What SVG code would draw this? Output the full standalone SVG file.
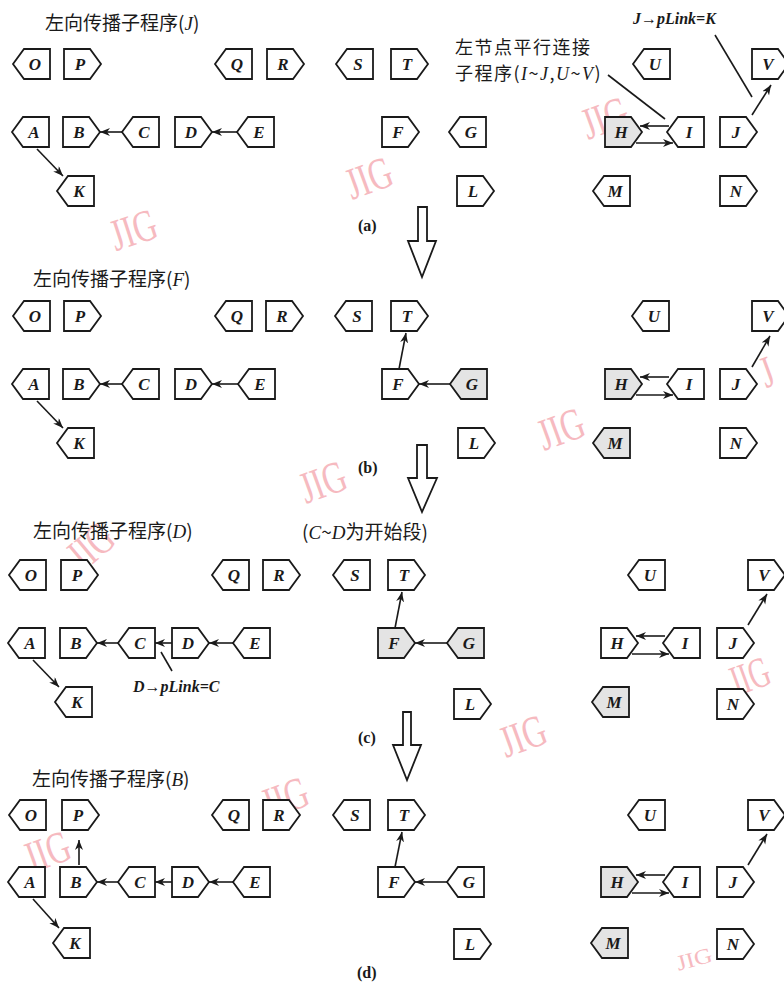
<svg xmlns="http://www.w3.org/2000/svg" xmlns:xlink="http://www.w3.org/1999/xlink" width="784" height="983" viewBox="0 0 784 983">
<style>
.n{fill:#fff;stroke:#1a1a1a;stroke-width:1.8}
.g{fill:#e4e4e4}
.t{font-family:"Liberation Serif",serif;font-style:italic;font-weight:bold;font-size:17px;fill:#1a1a1a;text-anchor:middle}
.h{font-family:"Noto Sans CJK SC","Liberation Serif",sans-serif;font-size:19px;fill:#1a1a1a}
.h2{font-family:"Noto Sans CJK SC","Liberation Serif",sans-serif;font-size:18px;letter-spacing:1.5px;fill:#1a1a1a}
.i{font-family:"Liberation Serif",serif;font-style:italic}
.p{font-family:"Liberation Serif",serif;font-style:italic;font-weight:bold;font-size:16px;fill:#1a1a1a}
.cap{font-family:"Liberation Serif",serif;font-weight:bold;font-size:16px;fill:#1a1a1a}
.c line{stroke:#1a1a1a;stroke-width:1.6}
.c .a{marker-end:url(#ah)}
.big{fill:#fff;stroke:#1a1a1a;stroke-width:1.8}
.w{font-family:"Liberation Serif",serif;font-size:36px;fill:#f4a3ab;opacity:0.75;text-anchor:middle}
</style>
<defs>
<path id="lp" d="M0,15 L11,0 H37 V30 H11 Z"/>
<path id="rp" d="M0,0 H26 L37,15 L26,30 H0 Z"/>
<marker id="ah" markerUnits="userSpaceOnUse" markerWidth="12" markerHeight="10" refX="10" refY="4" orient="auto" viewBox="0 0 12 10">
<path d="M0,0 L10,4 L0,8 L3,4 Z" fill="#1a1a1a"/>
</marker>
</defs>
<rect width="784" height="983" fill="#fff"/>

<!-- watermarks -->
<g id="watermarks">
<text class="w" transform="translate(138,244) rotate(-18) scale(0.9,1.25)">JIG</text>
<text class="w" transform="translate(374,192) rotate(-20) scale(0.9,1.25)">JIG</text>
<text class="w" transform="translate(610,132) rotate(-20) scale(0.9,1.25)">JIG</text>
<text class="w" transform="translate(566,443) rotate(-20) scale(0.9,1.25)">JIG</text>
<text class="w" transform="translate(772,386) rotate(-20) scale(0.9,1.25)">J</text>
<text class="w" transform="translate(328,496) rotate(-20) scale(0.9,1.25)">JIG</text>
<text class="w" transform="translate(100,558) rotate(-40) scale(0.9,1.25)">JIG</text>
<text class="w" transform="translate(754,690) rotate(-20) scale(0.8,1.2)">JIG</text>
<text class="w" transform="translate(528,750) rotate(-20) scale(0.9,1.25)">JIG</text>
<text class="w" transform="translate(290,812) rotate(-20) scale(0.9,1.25)">JIG</text>
<text class="w" transform="translate(52,866) rotate(-20) scale(0.9,1.25)">JIG</text>
<text class="w" transform="translate(696,966) rotate(-15) scale(0.7,0.6)">JIG</text>
</g>

<!-- labels -->
<g id="labels">
<text class="h" x="45" y="30">左向传播子程序(<tspan class="i">J</tspan>)</text>
<text class="h2" x="455" y="54">左节点平行连接</text>
<text class="h2" x="455" y="80">子程序(<tspan class="i">I</tspan>~<tspan class="i">J</tspan>,<tspan class="i">U</tspan>~<tspan class="i">V</tspan>)</text>
<text class="p" x="633" y="24">J→pLink=K</text>
<text class="cap" x="358" y="231">(a)</text>
<text class="h" x="33" y="286">左向传播子程序(<tspan class="i">F</tspan>)</text>
<text class="cap" x="358" y="473">(b)</text>
<text class="h" x="33" y="538">左向传播子程序(<tspan class="i">D</tspan>)</text>
<text class="h" x="302" y="539">(<tspan class="i">C</tspan>~<tspan class="i">D</tspan>为开始段)</text>
<text class="p" x="133" y="692">D→pLink=C</text>
<text class="cap" x="358" y="743">(c)</text>
<text class="h" x="32" y="786">左向传播子程序(<tspan class="i">B</tspan>)</text>
<text class="cap" x="357" y="978">(d)</text>
</g>

<!-- big down arrows -->
<g id="step-arrows">
<path class="big" d="M418,207 H427 V241 H436 L422,277 L408,241 H418 Z"/>
<path class="big" d="M417,445 H427 V478 H437 L422,512 L408,478 H417 Z"/>
<path class="big" d="M403,712 H411 V745 H421 L407,780 L393,745 H403 Z"/>
</g>

<!-- panel a nodes -->
<g id="a-O"><use href="#lp" class="n" x="13" y="49"/><text class="t" x="35" y="70">O</text></g>
<g id="a-P"><use href="#rp" class="n" x="64" y="49"/><text class="t" x="80" y="70">P</text></g>
<g id="a-Q"><use href="#lp" class="n" x="215" y="49"/><text class="t" x="237" y="70">Q</text></g>
<g id="a-R"><use href="#rp" class="n" x="267" y="49"/><text class="t" x="283" y="70">R</text></g>
<g id="a-S"><use href="#lp" class="n" x="336" y="49"/><text class="t" x="358" y="70">S</text></g>
<g id="a-T"><use href="#rp" class="n" x="391" y="49"/><text class="t" x="407" y="70">T</text></g>
<g id="a-U"><use href="#lp" class="n" x="633" y="49"/><text class="t" x="655" y="70">U</text></g>
<g id="a-V"><use href="#rp" class="n" x="752" y="49"/><text class="t" x="768" y="70">V</text></g>
<g id="a-A"><use href="#lp" class="n" x="12" y="117"/><text class="t" x="34" y="138">A</text></g>
<g id="a-B"><use href="#rp" class="n" x="63" y="117"/><text class="t" x="79" y="138">B</text></g>
<g id="a-C"><use href="#lp" class="n" x="122" y="117"/><text class="t" x="144" y="138">C</text></g>
<g id="a-D"><use href="#rp" class="n" x="175" y="117"/><text class="t" x="191" y="138">D</text></g>
<g id="a-E"><use href="#lp" class="n" x="237" y="117"/><text class="t" x="259" y="138">E</text></g>
<g id="a-F"><use href="#rp" class="n" x="382" y="117"/><text class="t" x="398" y="138">F</text></g>
<g id="a-G"><use href="#lp" class="n" x="449" y="117"/><text class="t" x="471" y="138">G</text></g>
<g id="a-H"><use href="#rp" class="n g" x="605" y="117"/><text class="t" x="621" y="138">H</text></g>
<g id="a-I"><use href="#lp" class="n" x="667" y="117"/><text class="t" x="689" y="138">I</text></g>
<g id="a-J"><use href="#rp" class="n" x="720" y="117"/><text class="t" x="736" y="138">J</text></g>
<g id="a-K"><use href="#lp" class="n" x="57" y="176"/><text class="t" x="79" y="197">K</text></g>
<g id="a-L"><use href="#rp" class="n" x="457" y="176"/><text class="t" x="473" y="197">L</text></g>
<g id="a-M"><use href="#lp" class="n" x="593" y="176"/><text class="t" x="615" y="197">M</text></g>
<g id="a-N"><use href="#rp" class="n" x="720" y="176"/><text class="t" x="736" y="197">N</text></g>

<!-- panel b nodes -->
<g id="b-O"><use href="#lp" class="n" x="13" y="301"/><text class="t" x="35" y="322">O</text></g>
<g id="b-P"><use href="#rp" class="n" x="64" y="301"/><text class="t" x="80" y="322">P</text></g>
<g id="b-Q"><use href="#lp" class="n" x="215" y="301"/><text class="t" x="237" y="322">Q</text></g>
<g id="b-R"><use href="#rp" class="n" x="266" y="301"/><text class="t" x="282" y="322">R</text></g>
<g id="b-S"><use href="#lp" class="n" x="335" y="301"/><text class="t" x="357" y="322">S</text></g>
<g id="b-T"><use href="#rp" class="n" x="391" y="301"/><text class="t" x="407" y="322">T</text></g>
<g id="b-U"><use href="#lp" class="n" x="632" y="301"/><text class="t" x="654" y="322">U</text></g>
<g id="b-V"><use href="#rp" class="n" x="752" y="301"/><text class="t" x="768" y="322">V</text></g>
<g id="b-A"><use href="#lp" class="n" x="12" y="369"/><text class="t" x="34" y="390">A</text></g>
<g id="b-B"><use href="#rp" class="n" x="63" y="369"/><text class="t" x="79" y="390">B</text></g>
<g id="b-C"><use href="#lp" class="n" x="122" y="369"/><text class="t" x="144" y="390">C</text></g>
<g id="b-D"><use href="#rp" class="n" x="175" y="369"/><text class="t" x="191" y="390">D</text></g>
<g id="b-E"><use href="#lp" class="n" x="238" y="369"/><text class="t" x="260" y="390">E</text></g>
<g id="b-F"><use href="#rp" class="n" x="382" y="369"/><text class="t" x="398" y="390">F</text></g>
<g id="b-G"><use href="#lp" class="n g" x="450" y="369"/><text class="t" x="472" y="390">G</text></g>
<g id="b-H"><use href="#rp" class="n g" x="605" y="369"/><text class="t" x="621" y="390">H</text></g>
<g id="b-I"><use href="#lp" class="n" x="667" y="369"/><text class="t" x="689" y="390">I</text></g>
<g id="b-J"><use href="#rp" class="n" x="720" y="369"/><text class="t" x="736" y="390">J</text></g>
<g id="b-K"><use href="#lp" class="n" x="57" y="428"/><text class="t" x="79" y="449">K</text></g>
<g id="b-L"><use href="#rp" class="n" x="458" y="428"/><text class="t" x="474" y="449">L</text></g>
<g id="b-M"><use href="#lp" class="n g" x="593" y="428"/><text class="t" x="615" y="449">M</text></g>
<g id="b-N"><use href="#rp" class="n" x="720" y="428"/><text class="t" x="736" y="449">N</text></g>

<!-- panel c nodes -->
<g id="c-O"><use href="#lp" class="n" x="9" y="560"/><text class="t" x="31" y="581">O</text></g>
<g id="c-P"><use href="#rp" class="n" x="61" y="560"/><text class="t" x="77" y="581">P</text></g>
<g id="c-Q"><use href="#lp" class="n" x="212" y="560"/><text class="t" x="234" y="581">Q</text></g>
<g id="c-R"><use href="#rp" class="n" x="263" y="560"/><text class="t" x="279" y="581">R</text></g>
<g id="c-S"><use href="#lp" class="n" x="333" y="560"/><text class="t" x="355" y="581">S</text></g>
<g id="c-T"><use href="#rp" class="n" x="388" y="560"/><text class="t" x="404" y="581">T</text></g>
<g id="c-U"><use href="#lp" class="n" x="628" y="560"/><text class="t" x="650" y="581">U</text></g>
<g id="c-V"><use href="#rp" class="n" x="748" y="560"/><text class="t" x="764" y="581">V</text></g>
<g id="c-A"><use href="#lp" class="n" x="8" y="628"/><text class="t" x="30" y="649">A</text></g>
<g id="c-B"><use href="#rp" class="n" x="60" y="628"/><text class="t" x="76" y="649">B</text></g>
<g id="c-C"><use href="#lp" class="n" x="118" y="628"/><text class="t" x="140" y="649">C</text></g>
<g id="c-D"><use href="#rp" class="n" x="172" y="628"/><text class="t" x="188" y="649">D</text></g>
<g id="c-E"><use href="#lp" class="n" x="233" y="628"/><text class="t" x="255" y="649">E</text></g>
<g id="c-F"><use href="#rp" class="n g" x="378" y="628"/><text class="t" x="394" y="649">F</text></g>
<g id="c-G"><use href="#lp" class="n g" x="447" y="628"/><text class="t" x="469" y="649">G</text></g>
<g id="c-H"><use href="#rp" class="n" x="601" y="628"/><text class="t" x="617" y="649">H</text></g>
<g id="c-I"><use href="#lp" class="n" x="663" y="628"/><text class="t" x="685" y="649">I</text></g>
<g id="c-J"><use href="#rp" class="n" x="717" y="628"/><text class="t" x="733" y="649">J</text></g>
<g id="c-K"><use href="#lp" class="n" x="55" y="687"/><text class="t" x="77" y="708">K</text></g>
<g id="c-L"><use href="#rp" class="n" x="454" y="689"/><text class="t" x="470" y="710">L</text></g>
<g id="c-M"><use href="#lp" class="n g" x="592" y="687"/><text class="t" x="614" y="708">M</text></g>
<g id="c-N"><use href="#rp" class="n" x="717" y="689"/><text class="t" x="733" y="710">N</text></g>

<!-- panel d nodes -->
<g id="d-O"><use href="#lp" class="n" x="9" y="800"/><text class="t" x="31" y="821">O</text></g>
<g id="d-P"><use href="#rp" class="n" x="62" y="800"/><text class="t" x="78" y="821">P</text></g>
<g id="d-Q"><use href="#lp" class="n" x="212" y="800"/><text class="t" x="234" y="821">Q</text></g>
<g id="d-R"><use href="#rp" class="n" x="263" y="800"/><text class="t" x="279" y="821">R</text></g>
<g id="d-S"><use href="#lp" class="n" x="333" y="800"/><text class="t" x="355" y="821">S</text></g>
<g id="d-T"><use href="#rp" class="n" x="388" y="800"/><text class="t" x="404" y="821">T</text></g>
<g id="d-U"><use href="#lp" class="n" x="628" y="800"/><text class="t" x="650" y="821">U</text></g>
<g id="d-V"><use href="#rp" class="n" x="748" y="800"/><text class="t" x="764" y="821">V</text></g>
<g id="d-A"><use href="#lp" class="n" x="8" y="867"/><text class="t" x="30" y="888">A</text></g>
<g id="d-B"><use href="#rp" class="n" x="60" y="867"/><text class="t" x="76" y="888">B</text></g>
<g id="d-C"><use href="#lp" class="n" x="118" y="867"/><text class="t" x="140" y="888">C</text></g>
<g id="d-D"><use href="#rp" class="n" x="172" y="867"/><text class="t" x="188" y="888">D</text></g>
<g id="d-E"><use href="#lp" class="n" x="233" y="867"/><text class="t" x="255" y="888">E</text></g>
<g id="d-F"><use href="#rp" class="n" x="378" y="867"/><text class="t" x="394" y="888">F</text></g>
<g id="d-G"><use href="#lp" class="n" x="447" y="867"/><text class="t" x="469" y="888">G</text></g>
<g id="d-H"><use href="#rp" class="n g" x="601" y="867"/><text class="t" x="617" y="888">H</text></g>
<g id="d-I"><use href="#lp" class="n" x="663" y="867"/><text class="t" x="685" y="888">I</text></g>
<g id="d-J"><use href="#rp" class="n" x="717" y="867"/><text class="t" x="733" y="888">J</text></g>
<g id="d-K"><use href="#lp" class="n" x="53" y="928"/><text class="t" x="75" y="949">K</text></g>
<g id="d-L"><use href="#rp" class="n" x="454" y="929"/><text class="t" x="470" y="950">L</text></g>
<g id="d-M"><use href="#lp" class="n g" x="591" y="928"/><text class="t" x="613" y="949">M</text></g>
<g id="d-N"><use href="#rp" class="n" x="717" y="929"/><text class="t" x="733" y="950">N</text></g>

<!-- connectors -->
<g id="connectors" class="c">
<!-- a -->
<line class="a" x1="122" y1="132" x2="100" y2="132"/>
<line class="a" x1="237" y1="132" x2="212" y2="132"/>
<line class="a" x1="37" y1="149" x2="63" y2="176"/>
<line class="a" x1="669" y1="126" x2="640" y2="126"/>
<line class="a" x1="636" y1="143" x2="673" y2="143"/>
<line class="a" x1="752" y1="115" x2="771" y2="85"/>
<line x1="608" y1="75" x2="665" y2="119"/>
<line x1="715" y1="35" x2="752" y2="97"/>
<!-- b -->
<line class="a" x1="122" y1="384" x2="100" y2="384"/>
<line class="a" x1="238" y1="384" x2="212" y2="384"/>
<line class="a" x1="37" y1="401" x2="63" y2="428"/>
<line class="a" x1="450" y1="384" x2="419" y2="384"/>
<line class="a" x1="399" y1="369" x2="406" y2="333"/>
<line class="a" x1="669" y1="377" x2="640" y2="377"/>
<line class="a" x1="636" y1="395" x2="673" y2="395"/>
<line class="a" x1="752" y1="367" x2="770" y2="336"/>
<!-- c -->
<line class="a" x1="118" y1="643" x2="97" y2="643"/>
<line class="a" x1="172" y1="643" x2="155" y2="643"/>
<line class="a" x1="233" y1="643" x2="209" y2="643"/>
<line class="a" x1="33" y1="660" x2="59" y2="687"/>
<line class="a" x1="447" y1="643" x2="415" y2="643"/>
<line class="a" x1="395" y1="628" x2="402" y2="592"/>
<line class="a" x1="665" y1="636" x2="636" y2="636"/>
<line class="a" x1="632" y1="654" x2="669" y2="654"/>
<line class="a" x1="748" y1="625" x2="767" y2="594"/>
<line x1="172" y1="671" x2="161" y2="652"/>
<!-- d -->
<line class="a" x1="118" y1="882" x2="97" y2="882"/>
<line class="a" x1="172" y1="882" x2="155" y2="882"/>
<line class="a" x1="233" y1="882" x2="209" y2="882"/>
<line class="a" x1="33" y1="899" x2="59" y2="928"/>
<line class="a" x1="79" y1="865" x2="79" y2="840"/>
<line class="a" x1="447" y1="882" x2="415" y2="882"/>
<line class="a" x1="395" y1="867" x2="402" y2="832"/>
<line class="a" x1="665" y1="875" x2="636" y2="875"/>
<line class="a" x1="632" y1="893" x2="669" y2="893"/>
<line class="a" x1="748" y1="865" x2="767" y2="834"/>
</g>
</svg>
